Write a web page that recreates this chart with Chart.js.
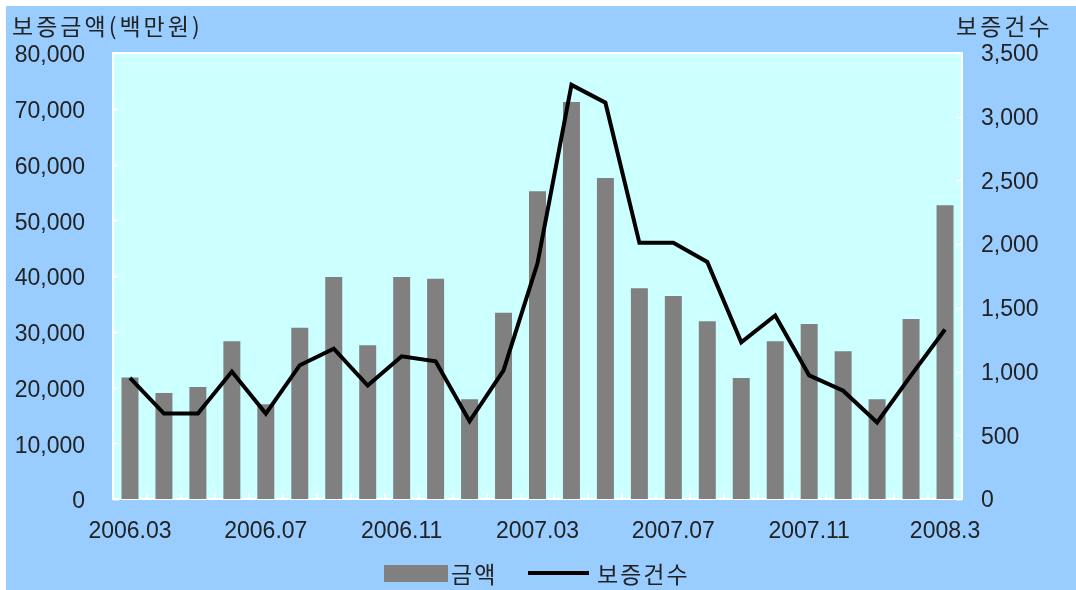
<!DOCTYPE html>
<html>
<head>
<meta charset="utf-8">
<script src="https://cdn.jsdelivr.net/npm/chart.js@4/dist/chart.umd.min.js"></script>
<style>
  html, body { margin: 0; padding: 0; background: #ffffff; }
  #chart { display: block; }
</style>
</head>
<body>
<canvas id="chart" width="1076" height="590"></canvas>
<script>
// ── Data ──────────────────────────────────────────────
const months = [
  '2006.03', '2006.04', '2006.05', '2006.06', '2006.07', '2006.08', '2006.09',
  '2006.10', '2006.11', '2006.12', '2007.01', '2007.02', '2007.03', '2007.04',
  '2007.05', '2007.06', '2007.07', '2007.08', '2007.09', '2007.10', '2007.11',
  '2007.12', '2008.01', '2008.02', '2008.3'
];
// 보증금액 (백만원)
const amounts = [
  21800, 19000, 20100, 28300, 17000, 30700, 39800,
  27600, 39800, 39500, 17900, 33400, 55200, 71200,
  57600, 37800, 36400, 31900, 21700, 28300, 31400,
  26500, 17900, 32300, 52700
];
// 보증건수
const counts = [
  950, 670, 670, 1000, 670, 1050, 1180,
  890, 1120, 1080, 610, 1010, 1850, 3250,
  3110, 2010, 2010, 1860, 1230, 1440, 970,
  850, 600, 970, 1330
];
const labelEvery = 4;

// ── Colours / fonts ───────────────────────────────────
const COLORS = {
  outer: '#99ccff',
  plot:  '#ccffff',
  bar:   '#808080',
  line:  '#000000',
  text:  '#222222',
  white: '#ffffff',
};
const NUM_FONT = "'Liberation Sans', Arial, sans-serif";
const KR_FONT  = "'Noto Sans CJK KR', 'Noto Sans', sans-serif";

const fmt = v => Number(v).toLocaleString('en-US');

// draw text one glyph at a time so the wide spacing of the original survives
function spacedText(ctx, text, x, y, gap) {
  let cx = x;
  for (const ch of text) {
    ctx.fillText(ch, cx, y);
    cx += ctx.measureText(ch).width + gap;
  }
}

// ── Background, plot frame and inner tick marks ───────
const framePlugin = {
  id: 'frame',
  beforeDraw(chart) {
    const { ctx, chartArea: a } = chart;
    ctx.save();
    ctx.fillStyle = COLORS.white;
    ctx.fillRect(0, 0, chart.width, chart.height);
    ctx.fillStyle = COLORS.outer;
    ctx.fillRect(6, 6, chart.width - 6, chart.height - 6);
    ctx.fillStyle = COLORS.plot;
    ctx.fillRect(a.left, a.top, a.right - a.left, a.bottom - a.top);
    ctx.restore();
  },
  beforeDatasetsDraw(chart) {
    const { ctx, chartArea: a, scales } = chart;
    ctx.save();
    ctx.strokeStyle = COLORS.white;
    ctx.lineWidth = 2;
    ctx.strokeRect(a.left, a.top, a.right - a.left, a.bottom - a.top);

    ctx.beginPath();
    // y-left ticks point inward
    scales.y.ticks.forEach(t => {
      const py = Math.round(scales.y.getPixelForValue(t.value)) + 0.5;
      ctx.moveTo(a.left, py); ctx.lineTo(a.left + 6, py);
    });
    // y-right ticks point inward
    scales.y2.ticks.forEach(t => {
      const py = Math.round(scales.y2.getPixelForValue(t.value)) + 0.5;
      ctx.moveTo(a.right, py); ctx.lineTo(a.right - 6, py);
    });
    // x ticks between categories
    const x = scales.x;
    for (let i = 1; i < months.length; i++) {
      const px = Math.round((x.getPixelForValue(i - 1) + x.getPixelForValue(i)) / 2);
      ctx.moveTo(px, a.bottom); ctx.lineTo(px, a.bottom - 6);
    }
    ctx.stroke();
    ctx.restore();
  },
  afterDraw(chart) {
    const { ctx } = chart;
    ctx.save();
    ctx.font = `23px ${KR_FONT}`;
    ctx.fillStyle = COLORS.text;
    ctx.textBaseline = 'middle';
    ctx.textAlign = 'left';
    // axis titles
    spacedText(ctx, '보증금액(백만원)', 12, 26, 3);
    spacedText(ctx, '보증건수', 956, 26, 3);

    // legend
    const ly = 574;
    ctx.fillStyle = COLORS.bar;
    ctx.fillRect(384, 565, 64, 17);
    ctx.fillStyle = COLORS.text;
    spacedText(ctx, '금액', 451, ly, 2);
    ctx.strokeStyle = COLORS.line;
    ctx.lineWidth = 4;
    ctx.beginPath();
    ctx.moveTo(528, 573); ctx.lineTo(589, 573);
    ctx.stroke();
    spacedText(ctx, '보증건수', 597, ly, 2);
    ctx.restore();
  }
};

// ── Chart ─────────────────────────────────────────────
new Chart(document.getElementById('chart'), {
  data: {
    labels: months,
    datasets: [
      {
        type: 'line',
        label: '보증건수',
        data: counts,
        yAxisID: 'y2',
        borderColor: COLORS.line,
        borderWidth: 4,
        pointRadius: 0,
        tension: 0,
        order: 0,
      },
      {
        type: 'bar',
        label: '금액',
        data: amounts,
        yAxisID: 'y',
        backgroundColor: COLORS.bar,
        barPercentage: 0.5,
        categoryPercentage: 1,
        order: 1,
      }
    ]
  },
  options: {
    responsive: false,
    animation: false,
    devicePixelRatio: 1,
    layout: { padding: { top: 53, left: 0, right: 0, bottom: 0 } },
    plugins: {
      legend:  { display: false },
      tooltip: { enabled: false },
    },
    scales: {
      x: {
        offset: true,
        grid: { display: false, drawTicks: false },
        border: { display: false },
        afterFit: s => { s.height = 91; },
        ticks: {
          autoSkip: false,
          maxRotation: 0,
          padding: 19,
          color: COLORS.text,
          font: { family: NUM_FONT, size: 23 },
          callback: (val, i) => (i % labelEvery === 0 ? months[i] : ''),
        },
      },
      y: {
        position: 'left',
        min: 0, max: 80000,
        grid: { display: false, drawTicks: false },
        border: { display: false },
        afterFit: s => { s.width = 113; },
        ticks: {
          stepSize: 10000,
          padding: 28,
          labelOffset: 3,
          color: COLORS.text,
          font: { family: NUM_FONT, size: 23 },
          callback: v => fmt(v),
        },
      },
      y2: {
        position: 'right',
        min: 0, max: 3500,
        grid: { display: false, drawTicks: false },
        border: { display: false },
        afterFit: s => { s.width = 114; },
        ticks: {
          stepSize: 500,
          padding: 19,
          labelOffset: 2,
          color: COLORS.text,
          font: { family: NUM_FONT, size: 23 },
          callback: v => fmt(v),
        },
      },
    },
  },
  plugins: [framePlugin],
});
</script>
</body>
</html>
